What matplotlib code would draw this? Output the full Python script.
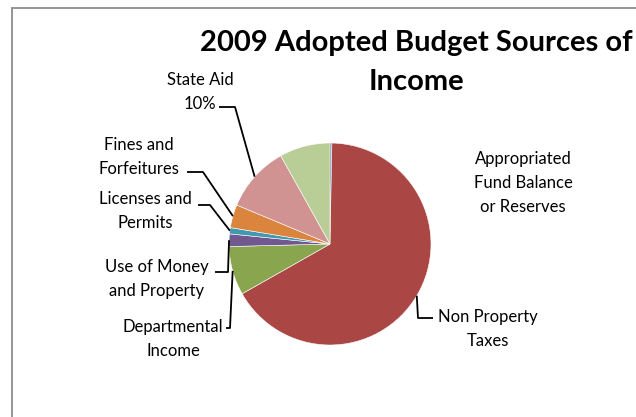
import numpy as np
import matplotlib
matplotlib.use("Agg")
import matplotlib.pyplot as plt
from matplotlib.patches import Rectangle

plt.rcParams['font.family'] = ['Lato', 'DejaVu Sans']

# slices in drawing order, clockwise from 12 o'clock (percent of total)
sources = ["Appropriated Fund Balance or Reserves", "Non Property Taxes",
           "Departmental Income", "Use of Money and Property",
           "Licenses and Permits", "Fines and Forfeitures", "State Aid",
           "Other"]
shares = [0.3, 66.5, 7.8, 2.0, 1.0, 3.7, 10.6, 8.1]
colors = ["#4572A7", "#AA4644", "#89A54E", "#71588F", "#4198AF",
          "#DB843D", "#D09392", "#B9CD96"]

# label text shown for each slice (None = no label)
label_text = ["Appropriated\nFund Balance\nor Reserves", "Non Property\nTaxes",
              "Departmental\nIncome", "Use of Money\nand Property",
              "Licenses and\nPermits", "Fines and\nForfeitures",
              "State Aid\n10%", None]
title_lines = ["2009 Adopted Budget Sources of", "Income"]

W, H = 636, 417
fig = plt.figure(figsize=(W / 100, H / 100), dpi=100)
ax = fig.add_axes([0, 0, 1, 1])

# chart frame (runs past the right and bottom edges)
ax.add_patch(Rectangle((12, -20), 700, H - 8 + 20, fill=False,
                       edgecolor="#8c8c8c", linewidth=1.3, clip_on=False))

cx, cy, r = 330, H - 244, 101
wedges, _ = ax.pie(shares, colors=colors, startangle=90, counterclock=False,
                   center=(cx, cy), radius=r, frame=True,
                   wedgeprops=dict(edgecolor="white", linewidth=0.4))
ax.set_xlim(0, W)
ax.set_ylim(0, H)
ax.axis('off')

# title, one text per line
for k, line in enumerate(title_lines):
    ax.text(416, H - (43 + 39 * k), line, ha="center", va="center",
            fontsize=21, fontweight="bold")

# label layout: text centre, elbow of the leader line, end of horizontal tick
layout = {
    0: dict(text=(523, 183), leader=None),
    1: dict(text=(488, 329), leader=[(418, 318), (433, 318)]),
    2: dict(text=(173, 339), leader=[(230, 328), (226, 328)]),
    3: dict(text=(157, 279), leader=[(228, 272), (215, 272)]),
    4: dict(text=(145, 211), leader=[(210, 205), (198, 205)]),
    5: dict(text=(139, 157), leader=[(203, 172), (187, 172)]),
    6: dict(text=(200, 92), leader=[(235, 107), (219, 107)]),
}

for i, w in enumerate(wedges):
    if label_text[i] is None:
        continue
    lay = layout[i]
    tx, ty = lay["text"]
    ax.text(tx, H - ty, label_text[i], ha="center", va="center",
            fontsize=12, linespacing=1.6, color="black")
    if lay["leader"] is not None:
        mid = np.deg2rad((w.theta1 + w.theta2) / 2)
        px, py = cx + r * np.cos(mid), cy + r * np.sin(mid)
        xs = [px] + [p[0] for p in lay["leader"]]
        ys = [py] + [H - p[1] for p in lay["leader"]]
        ax.plot(xs, ys, color="black", linewidth=1.3, solid_capstyle="butt")

fig.savefig("out.png", dpi=100)
